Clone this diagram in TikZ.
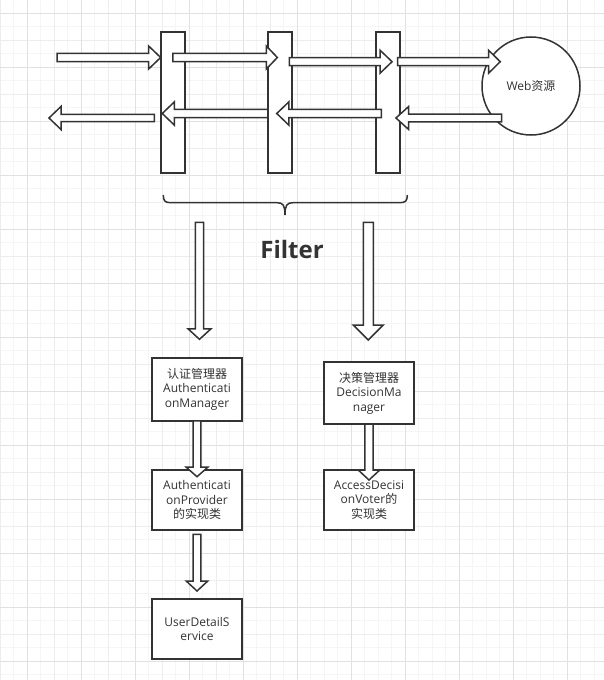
\documentclass[tikz,border=0pt]{standalone}
\usepackage{fontspec}
\setmainfont{Open Sans}
\newfontfamily\cjk{Noto Sans CJK SC}
\usepackage{xcolor}
\usepackage{tikz}
\usetikzlibrary{calc, positioning}
\definecolor{linegray}{RGB}{51, 51, 51}
\definecolor{textgray}{RGB}{51, 51, 51}
\definecolor{gridminor}{RGB}{245, 245, 245}
\definecolor{gridmid}{RGB}{237, 237, 237}
\definecolor{gridmajor}{RGB}{225, 225, 225}

\tikzset{
  filterbar/.style={draw=linegray, line width=2pt, fill=white, inner sep=0pt,
    outer sep=0pt, minimum width=24.5pt, minimum height=141.5pt},
  mgrbox/.style={draw=linegray, line width=2pt, fill=white, inner sep=0pt,
    outer sep=0pt, minimum width=90pt, align=center, text=textgray,
    font=\fontsize{12}{14.5}\selectfont},
  blockarrow/.style={draw=linegray, line width=1.5pt, fill=white, line join=miter},
}

% block arrow: tail, tip, shaft half width, head half width, head length
\newcommand{\blockarrow}[5]{%
  \path #1 coordinate (ba-s) #2 coordinate (ba-e);
  \coordinate (ba-h) at ($(ba-e)!#5!(ba-s)$);
  \draw[blockarrow] ($(ba-s)!#3!90:(ba-e)$) -- ($(ba-h)!#3!90:(ba-e)$)
    -- ($(ba-h)!#4!90:(ba-e)$) -- (ba-e) -- ($(ba-h)!#4!-90:(ba-e)$)
    -- ($(ba-h)!#3!-90:(ba-e)$) -- ($(ba-s)!#3!-90:(ba-e)$) -- cycle;
}

\begin{document}
\begin{tikzpicture}[x=1pt, y=-1pt]
    \useasboundingbox[fill=white] (0,0) rectangle (604,680);

    % grid
    \foreach \k in {0,...,44} {
        \draw[gridminor, line width=1pt] ({0.3+13.5*\k},0) -- ({0.3+13.5*\k},680);
    }
    \foreach \k in {-1,...,49} {
        \draw[gridminor, line width=1pt] (0,{13.3+13.5*\k}) -- (604,{13.3+13.5*\k});
    }
    \foreach \k in {0,...,11} {
        \draw[gridmid, line width=1pt] ({0.3+27*\k},0) -- ({0.3+27*\k},680);
        \draw[gridmid, line width=1pt] (0,{-13.7+27*\k}) -- (604,{-13.7+27*\k});
    }
    \foreach \k in {12,...,25} {
        \draw[gridmid, line width=1pt] (0,{-13.7+27*\k}) -- (604,{-13.7+27*\k});
    }
    \foreach \k in {0,...,10} {
        \draw[gridmajor, line width=1pt] ({27.3+54*\k},0) -- ({27.3+54*\k},680);
    }
    \foreach \k in {0,...,12} {
        \draw[gridmajor, line width=1pt] (0,{13.3+54*\k}) -- (604,{13.3+54*\k});
    }

    % filters and resource
    \node[filterbar] (flt1) at (172.9,102.5) {};
    \node[filterbar] (flt2) at (280,102.5) {};
    \node[filterbar] (flt3) at (388,102.5) {};
    \node[circle, draw=linegray, line width=1.5pt, fill=white, minimum size=98pt,
          inner sep=0pt, text=textgray, font=\fontsize{12}{14}\selectfont]
          (web) at (531,86) {Web{\cjk 资源}};

    % managers
    \node[mgrbox, minimum height=63pt] (authmgr) at (197,389.3)
        {{\cjk 认证管理器}\\Authenticati\\onManager};
    \node[mgrbox, minimum height=62pt] (decmgr) at (369,393.2)
        {{\cjk 决策管理器}\\DecisionMa\\nager};
    \node[mgrbox, minimum height=60pt] (authprov) at (197,500)
        {Authenticati\\onProvider\\{\cjk 的实现类}};
    \node[mgrbox, minimum height=60pt] (voter) at (369,500)
        {AccessDecisi\\onVoter{\cjk 的}\\{\cjk 实现类}};
    \node[mgrbox, minimum height=60pt] (uds) at (197,629)
        {UserDetailS\\ervice};

    % brace and label
    \draw[linegray, line width=1.5pt] (163.3,195) .. controls (163.3,201) and (165,202.7) .. (171,202.7)
        -- (277,202.7) .. controls (283,202.7) and (285,205) .. (285,215)
        .. controls (285,205) and (287,202.7) .. (293,202.7) -- (399.5,202.7)
        .. controls (405.5,202.7) and (407.3,201) .. (407.3,195);
    \node[text=textgray, font=\fontsize{24}{28}\selectfont\bfseries] (flabel) at (292,249) {Filter};

    % request and response rows
    \coordinate (rowa) at (0,57.5);
    \coordinate (rowb) at (0,61.7);
    \coordinate (rowc) at (0,113.5);
    \coordinate (rowd) at (0,118);
    \coordinate (req) at (57,57.5);
    \coordinate (resp) at (49,118);

    \blockarrow{(req)}{(flt1.west |- rowa)}{4.2pt}{11.5pt}{12pt}
    \blockarrow{(flt1.center |- rowa)}{($(flt2.west |- rowa)+(9.6,0)$)}{4.2pt}{11.5pt}{11pt}
    \blockarrow{($(flt2.east |- rowb)+(-3,0)$)}{($(flt3.west |- rowb)+(16.3,0)$)}{4pt}{11.5pt}{12pt}
    \blockarrow{($(flt3.east |- rowb)+(-2.7,0)$)}{($(web.west |- rowb)+(19,0)$)}{4pt}{11.5pt}{11.7pt}
    \blockarrow{($(web.west |- rowd)+(20.3,0)$)}{($(flt3.east |- rowd)+(-4.3,0)$)}{3.9pt}{11.5pt}{12.7pt}
    \blockarrow{($(flt3.west |- rowc)+(5.7,0)$)}{($(flt2.west |- rowc)+(9,0)$)}{4.2pt}{11.5pt}{12pt}
    \blockarrow{(flt2.west |- rowc)}{($(flt1.west |- rowc)+(1.6,0)$)}{4.2pt}{11.5pt}{12pt}
    \blockarrow{($(flt1.west |- rowd)+(-6.4,0)$)}{(resp)}{3.7pt}{11.5pt}{12pt}

    % down to the managers
    \coordinate (authin) at (199.5,222.3);
    \coordinate (authtip) at (199.5,339.3);
    \coordinate (decin) at (368.3,222.3);
    \coordinate (dectip) at (368.3,340);
    \blockarrow{(authin)}{(authtip)}{4.2pt}{11.5pt}{10.5pt}
    \blockarrow{(decin)}{(dectip)}{5pt}{15pt}{15pt}
    \blockarrow{(authmgr.south)}{($(authprov.north)+(0,6.7)$)}{3.9pt}{10.8pt}{9.5pt}
    \blockarrow{(decmgr.south)}{($(voter.north)+(0,10)$)}{4.2pt}{10.8pt}{10pt}
    \blockarrow{($(authprov.south)+(0,4.3)$)}{($(uds.north)+(0,-8)$)}{3.9pt}{10.8pt}{10pt}
\end{tikzpicture}
\end{document}
